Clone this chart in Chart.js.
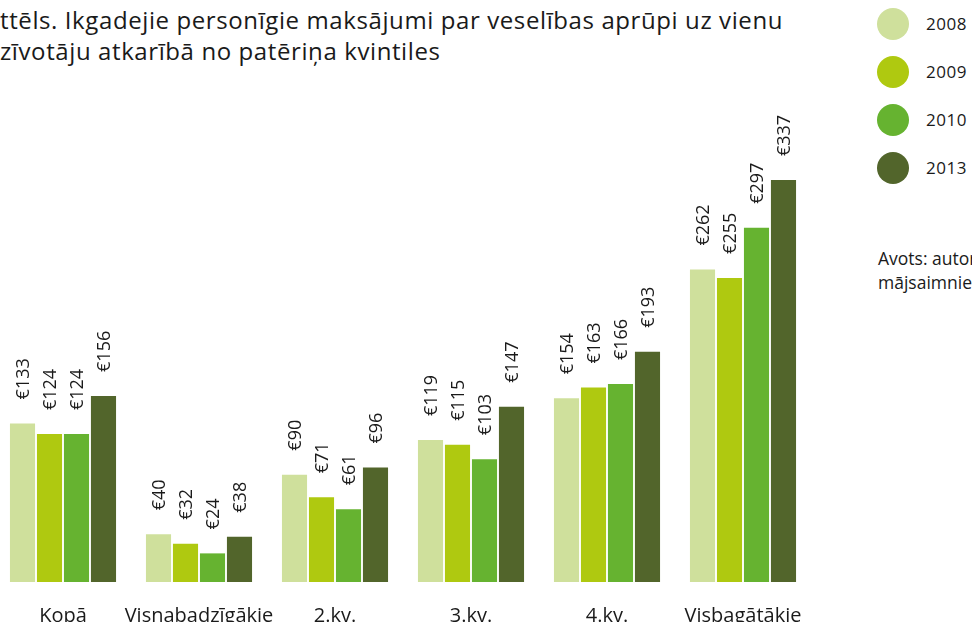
<!DOCTYPE html>
<html>
<head>
<meta charset="utf-8">
<script src="https://cdn.jsdelivr.net/npm/chart.js@4"></script>
<style>
  html, body { margin: 0; padding: 0; background: #fff; overflow: hidden; }
  body { width: 972px; height: 622px; position: relative; font-family: "Open Sans", sans-serif; color: #1a1a1a; }
  #virsraksts { position: absolute; left: 0; top: 4px; font-size: 24px; letter-spacing: 0.6px; line-height: 31px; white-space: nowrap; }
  #grafiks { position: absolute; left: -25px; top: 0; width: 860px; height: 622px; }
  #legenda { position: absolute; left: 877px; top: 8px; }
  .leg { height: 48px; display: flex; align-items: flex-start; white-space: nowrap; }
  .leg span.aplis { width: 32px; height: 32px; border-radius: 50%; display: inline-block; }
  .leg span.teksts { font-size: 17px; letter-spacing: 0.5px; margin-left: 17px; line-height: 32px; }
  #avots { position: absolute; left: 878px; top: 246px; font-size: 17.5px; line-height: 24px; white-space: nowrap; }
</style>
</head>
<body>
<div id="virsraksts">ttēls. Ikgadejie personīgie maksājumi par veselības aprūpi uz vienu<br>zīvotāju atkarībā no patēriņa kvintiles</div>
<div id="grafiks"><canvas id="kanva"></canvas></div>
<div id="legenda"></div>
<div id="avots">Avots: autoru aprēķini<br>mājsaimniecību budžeta apsekojums</div>
<script>
const kategorijas = ["Kopā", "Visnabadzīgākie", "2.kv.", "3.kv.", "4.kv.", "Visbagātākie"];
const gadi = ["2008", "2009", "2010", "2013"];
const krasas = ["#cfe09c", "#afc910", "#66b330", "#52652b"];
const v2008 = [133, 40, 90, 119, 154, 262];
const v2009 = [124, 32, 71, 115, 163, 255];
const v2010 = [124, 24, 61, 103, 166, 297];
const v2013 = [156, 38, 96, 147, 193, 337];
const vertibas = [v2008, v2009, v2010, v2013];

// legenda
const legenda = document.getElementById("legenda");
gadi.forEach((g, i) => {
  const r = document.createElement("div");
  r.className = "leg";
  r.innerHTML = `<span class="aplis" style="background:${krasas[i]}"></span><span class="teksts">${g}</span>`;
  legenda.appendChild(r);
});

// vertibu uzraksti virs stabiņiem
const uzraksti = {
  id: "uzraksti",
  afterDatasetsDraw(chart) {
    const ctx = chart.ctx;
    ctx.save();
    ctx.fillStyle = "#1a1a1a";
    ctx.font = '18px "Open Sans"';
    ctx.textAlign = "left";
    ctx.textBaseline = "middle";
    chart.data.datasets.forEach((ds, i) => {
      chart.getDatasetMeta(i).data.forEach((el, j) => {
        ctx.save();
        ctx.translate(el.x + 1, el.y - 24);
        ctx.rotate(-Math.PI / 2);
        ctx.fillText("€" + ds.data[j], 0, 0);
        ctx.restore();
      });
    });
    ctx.restore();
  }
};

const ctx = document.getElementById("kanva").getContext("2d");
new Chart(ctx, {
  type: "bar",
  data: {
    labels: kategorijas,
    datasets: gadi.map((g, i) => ({
      label: g,
      data: vertibas[i],
      backgroundColor: krasas[i],
      categoryPercentage: 0.794,
      barPercentage: 0.93
    }))
  },
  options: {
    responsive: true,
    maintainAspectRatio: false,
    animation: false,
    layout: { padding: { left: 20, right: 24, top: 0, bottom: 0 } },
    plugins: { legend: { display: false }, tooltip: { enabled: false } },
    scales: {
      x: {
        grid: { display: false },
        border: { display: false },
        ticks: { color: "#1a1a1a", font: { family: "Open Sans", size: 20 }, padding: 14, maxRotation: 0, autoSkip: false },
        afterFit: s => { s.height = 40; }
      },
      y: { display: false, min: 0, max: 488 }
    }
  },
  plugins: [uzraksti]
});
</script>
</body>
</html>
